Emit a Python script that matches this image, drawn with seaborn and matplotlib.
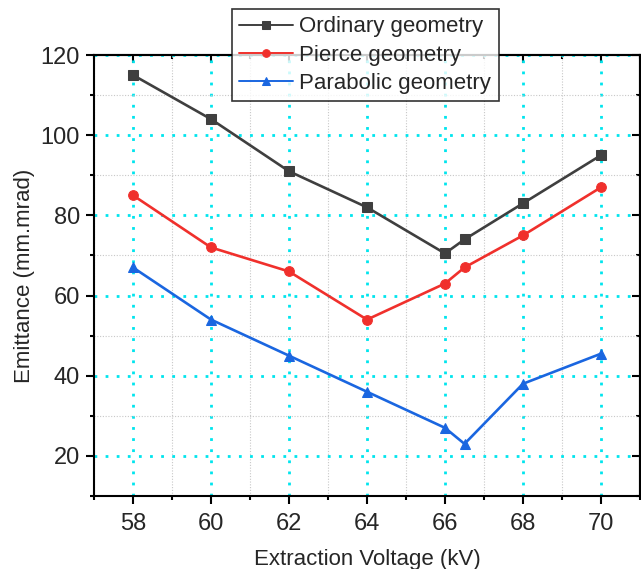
import matplotlib
matplotlib.use("Agg")
import matplotlib.pyplot as plt
from matplotlib.ticker import MultipleLocator
import seaborn as sns
import pandas as pd

voltage = [58, 60, 62, 64, 66, 66.5, 68, 70]
ordinary = [115, 104, 91, 82, 70.5, 74, 83, 95]
pierce = [85, 72, 66, 54, 63, 67, 75, 87]
parabolic = [67, 54, 45, 36, 27, 23, 38, 45.5]

series_names = ["Ordinary geometry", "Pierce geometry", "Parabolic geometry"]
series_values = [ordinary, pierce, parabolic]
colors = ["#3f3f3f", "#f0302c", "#1a66e0"]
markers = ["s", "o", "^"]

rows = []
for name, vals in zip(series_names, series_values):
    for v, e in zip(voltage, vals):
        rows.append({"Voltage": v, "Emittance": e, "Geometry": name})
df = pd.DataFrame(rows)

sns.set_style("white")
plt.rcParams["font.family"] = ["Liberation Sans", "DejaVu Sans"]

fig = plt.figure(figsize=(6.41, 5.69), dpi=100)
ax = fig.add_axes([94 / 641, 1 - 496 / 569, 546 / 641, 441 / 569])

for name, col, mk in zip(series_names, colors, markers):
    sub = df[df["Geometry"] == name]
    sns.lineplot(data=sub, x="Voltage", y="Emittance", ax=ax, color=col,
                 marker=mk, markersize=7, markeredgecolor=col, linewidth=1.9,
                 label=name, zorder=3)

ax.set_xlim(57, 71)
ax.set_ylim(10, 120)
ax.xaxis.set_major_locator(MultipleLocator(2))
ax.xaxis.set_minor_locator(MultipleLocator(1))
ax.yaxis.set_major_locator(MultipleLocator(20))
ax.yaxis.set_minor_locator(MultipleLocator(10))

ax.grid(which="minor", color="#c8c8c8", linestyle=(0, (1, 1.5)), linewidth=0.8, zorder=0)
ax.grid(which="major", color="#00e5ee", linestyle=(0, (1, 3)), linewidth=2, zorder=1)
ax.set_axisbelow(True)

for sp in ax.spines.values():
    sp.set_color("black")
    sp.set_linewidth(1.5)

# outward ticks on bottom/left, inward on top/right
ax.tick_params(which="both", direction="out", bottom=True, left=True,
               color="black", width=1.5)
ax.tick_params(which="major", length=6, labelsize=17)
ax.tick_params(which="minor", length=3)
ax.tick_params(axis="x", pad=6)
ax.tick_params(axis="y", pad=4)

for side in ("top", "right"):
    sec = ax.secondary_xaxis("top") if side == "top" else ax.secondary_yaxis("right")
    axis = sec.xaxis if side == "top" else sec.yaxis
    axis.set_major_locator(MultipleLocator(2 if side == "top" else 20))
    axis.set_minor_locator(MultipleLocator(1 if side == "top" else 10))
    sec.tick_params(which="both", direction="in", color="black", width=1.5,
                    labelsize=0, labeltop=False, labelright=False)
    sec.tick_params(which="major", length=6)
    sec.tick_params(which="minor", length=3)
    for sp in sec.spines.values():
        sp.set_linewidth(1.5)

ax.set_xlabel("Extraction Voltage (kV)", fontsize=16, labelpad=10)
ax.set_ylabel("Emittance (mm.mrad)", fontsize=16, labelpad=4)

leg = ax.legend(loc="upper center", bbox_to_anchor=(0.497, 1.105), fontsize=16,
                frameon=True, fancybox=False, edgecolor="black",
                borderpad=0.35, labelspacing=0.32, handlelength=2.4,
                handletextpad=0.3, borderaxespad=0)
leg.get_frame().set_linewidth(1.2)
leg.set_zorder(5)
for h in leg.legend_handles:
    h.set_markersize(5.5)
    h.set_linewidth(1.4)

fig.savefig("out.png", dpi=100)
